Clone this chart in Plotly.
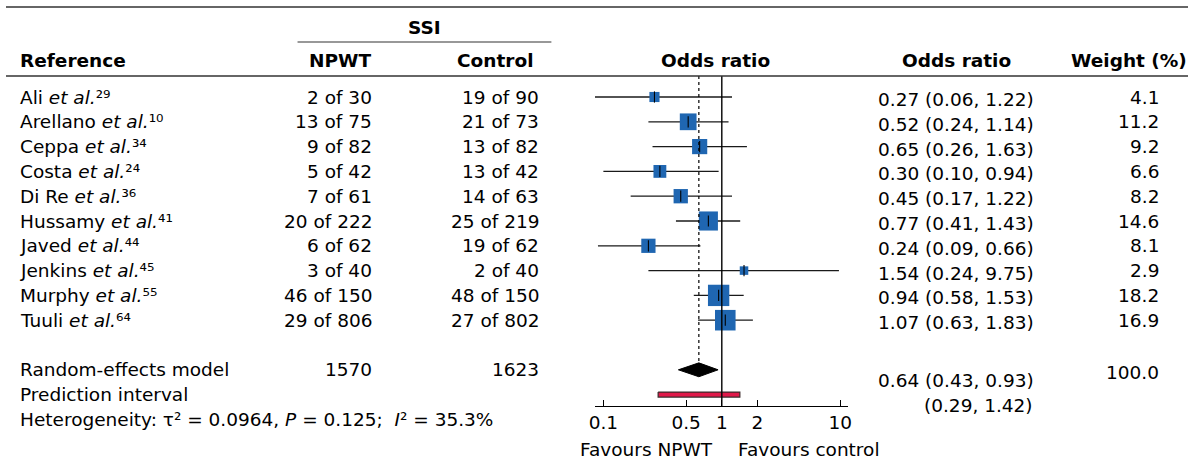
import numpy as np
import plotly.graph_objects as go

# ---------------- data ----------------
studies = ["Ali", "Arellano", "Ceppa", "Costa", "Di Re", "Hussamy", "Javed", "Jenkins", "Murphy", "Tuuli"]
refs = [29, 10, 34, 24, 36, 41, 44, 45, 55, 64]
npwt_events = [2, 13, 9, 5, 7, 20, 6, 3, 46, 29]
npwt_total = [30, 75, 82, 42, 61, 222, 62, 40, 150, 806]
ctrl_events = [19, 21, 13, 13, 14, 25, 19, 2, 48, 27]
ctrl_total = [90, 73, 82, 42, 63, 219, 62, 40, 150, 802]
or_est = [0.27, 0.52, 0.65, 0.30, 0.45, 0.77, 0.24, 1.54, 0.94, 1.07]
or_lo = [0.06, 0.24, 0.26, 0.10, 0.17, 0.41, 0.09, 0.24, 0.58, 0.63]
or_hi = [1.22, 1.14, 1.63, 0.94, 1.22, 1.43, 0.66, 9.75, 1.53, 1.83]
weights = [4.1, 11.2, 9.2, 6.6, 8.2, 14.6, 8.1, 2.9, 18.2, 16.9]
pooled_est, pooled_lo, pooled_hi = 0.64, 0.43, 0.93
pred_lo, pred_hi = 0.29, 1.42
total_npwt, total_ctrl = 1570, 1623
total_weight = 100.0
tau2, p_het, i2 = 0.0964, 0.125, 35.3
axis_ticks = [0.1, 0.5, 1, 2, 10]
axis_ticklabels = ["0.1", "0.5", "1", "2", "10"]

# ---------------- layout helpers ----------------
W, H = 1192, 462
ROW0, ROWH = 97, 24.8          # pixel of first row, row height
SUP = str.maketrans("0123456789", "⁰¹²³⁴⁵⁶⁷⁸⁹")


def row_of(py):
    return (py - ROW0) / ROWH


def px(x):
    return x / W


def py(y):
    return 1 - y / H


rows = list(range(len(studies)))
re_row, pi_row, het_row = 11, 12, 13

FONT = "DejaVu Sans, Liberation Sans, Arial, sans-serif"
FS = 18.5
BLUE = "#1f66b1"

fig = go.Figure()

# CI lines
cx, cy = [], []
for i, lo, hi in zip(rows, or_lo, or_hi):
    cx += [lo, hi, None]
    cy += [i, i, None]
fig.add_trace(go.Scatter(x=cx, y=cy, mode="lines",
                         line=dict(color="#1a1a1a", width=1.3), hoverinfo="skip"))

# squares (area proportional to weight)
fig.add_trace(go.Scatter(x=or_est, y=rows, mode="markers",
                         marker=dict(symbol="square", color=BLUE, opacity=1,
                                     size=[5.0 * np.sqrt(w) for w in weights],
                                     line=dict(width=0)),
                         hoverinfo="skip"))
# estimate ticks
fig.add_trace(go.Scatter(x=or_est, y=rows, mode="markers",
                         marker=dict(symbol="line-ns", size=8, opacity=1,
                                     line=dict(color="black", width=1.1)),
                         hoverinfo="skip"))

# dotted line at pooled estimate
fig.add_trace(go.Scatter(x=[pooled_est, pooled_est], y=[row_of(76), re_row - 0.28],
                         mode="lines", line=dict(color="black", width=1.2, dash="dot"),
                         hoverinfo="skip"))

# diamond
fig.add_trace(go.Scatter(x=[pooled_lo, pooled_est, pooled_hi, pooled_est, pooled_lo],
                         y=[re_row, re_row - 0.28, re_row, re_row + 0.28, re_row],
                         mode="lines", fill="toself", fillcolor="black",
                         line=dict(color="black", width=1), hoverinfo="skip"))

# prediction interval bar
fig.add_trace(go.Scatter(x=[pred_lo, pred_hi, pred_hi, pred_lo, pred_lo],
                         y=[pi_row - 0.1, pi_row - 0.1, pi_row + 0.1, pi_row + 0.1, pi_row - 0.1],
                         mode="lines", fill="toself", fillcolor="#e0194a",
                         line=dict(color="#3a2a2a", width=1.2), hoverinfo="skip"))

shapes = [
    # line of no effect
    dict(type="line", xref="x", yref="paper", x0=1, x1=1, y0=py(406), y1=py(76),
         line=dict(color="black", width=1.4)),
    # top rule
    dict(type="line", xref="paper", yref="paper", x0=0, x1=1, y0=py(7), y1=py(7),
         line=dict(color="#333333", width=1.6)),
    # header rule
    dict(type="line", xref="paper", yref="paper", x0=0, x1=1, y0=py(76), y1=py(76),
         line=dict(color="#333333", width=1.6)),
    # SSI underline
    dict(type="line", xref="paper", yref="paper", x0=px(294), x1=px(550), y0=py(42), y1=py(42),
         line=dict(color="#333333", width=1.2)),
]

ann = []


def txt(text, x, y, anchor="left", bold=False, yref="y", xref="paper", xshift=0):
    ann.append(dict(text=text, x=x, y=y, xref=xref, yref=yref, xanchor=anchor,
                    yanchor="middle", showarrow=False, xshift=xshift,
                    borderpad=0, borderwidth=0,
                    font=dict(family=FONT, size=FS, color="black",
                              weight="bold" if bold else "normal")))


# headers
txt("SSI", px(422), row_of(27), "center", True)
txt("Reference", px(14), row_of(60), "left", True)
txt("NPWT", px(368), row_of(60), "right", True)
txt("Control", px(531), row_of(60), "right", True)
txt("Odds ratio", px(715), row_of(60), "center", True)
txt("Odds ratio", px(904), row_of(60), "left", True)
txt("Weight (%)", px(1191), row_of(60), "right", True)

# study rows
for i in rows:
    txt(f"{studies[i]} <i>et al.</i>{str(refs[i]).translate(SUP)}", px(14), i)
    txt(f"{npwt_events[i]} of {npwt_total[i]}", px(369), i, "right")
    txt(f"{ctrl_events[i]} of {ctrl_total[i]}", px(538), i, "right")
    txt(f"{or_est[i]:.2f} ({or_lo[i]:.2f}, {or_hi[i]:.2f})", px(879), i + 0.1)
    txt(f"{weights[i]:.1f}", px(1163), i, "right")

# summary rows
txt("Random-effects model", px(14), re_row)
txt(f"{total_npwt}", px(369), re_row, "right")
txt(f"{total_ctrl}", px(538), re_row, "right")
txt(f"{pooled_est:.2f} ({pooled_lo:.2f}, {pooled_hi:.2f})", px(879), row_of(380))
txt(f"{total_weight:.1f}", px(1163), row_of(372), "right")
txt("Prediction interval", px(14), pi_row)
txt(f"({pred_lo:.2f}, {pred_hi:.2f})", px(1036), row_of(405), "right")
txt(f"Heterogeneity: τ² = {tau2:.4f}, <i>P</i> = {p_het:.3f};  <i>I</i>² = {i2:.1f}%",
    px(14), het_row)

# favours labels (annotation x on a log axis is given in log10 units)
txt("Favours NPWT", np.log10(1), row_of(449), "right", xref="x", xshift=-9)
txt("Favours control", np.log10(1), row_of(449), "left", xref="x", xshift=16)

fig.update_layout(
    width=W, height=H, margin=dict(l=0, r=0, t=0, b=0),
    paper_bgcolor="white", plot_bgcolor="white", showlegend=False,
    shapes=shapes, annotations=ann,
    xaxis=dict(type="log", range=[np.log10(0.085), np.log10(11.6)],
               domain=[px(594), px(849)], anchor="free", position=py(406),
               tickvals=axis_ticks, ticktext=axis_ticklabels,
               ticks="inside", ticklen=6, tickwidth=1.2, tickcolor="black",
               showline=True, linecolor="black", linewidth=1.4,
               showgrid=False, zeroline=False,
               tickfont=dict(family=FONT, size=FS, color="black")),
    yaxis=dict(range=[row_of(H), row_of(0)], domain=[0, 1], visible=False,
               showgrid=False, zeroline=False),
)

fig.write_html("out.html")
